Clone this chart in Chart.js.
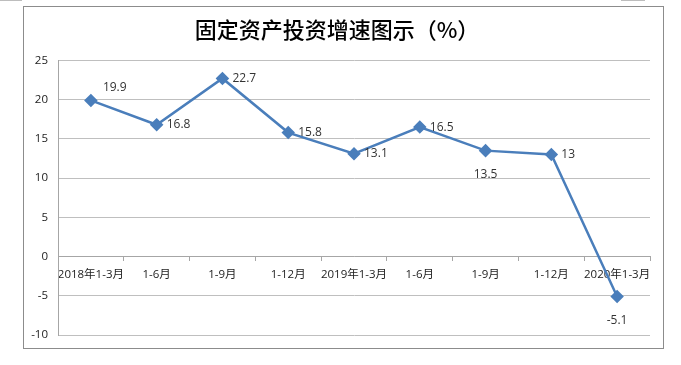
<!DOCTYPE html>
<html>
<head>
<meta charset="utf-8">
<script src="https://cdn.jsdelivr.net/npm/chart.js@4/dist/chart.umd.min.js"></script>
<style>
  html, body { margin: 0; padding: 0; background: #fff; }
  #wrap { position: relative; width: 681px; height: 365px; }
  #chart { position: absolute; left: 0; top: 0; }
</style>
</head>
<body>
<div id="wrap">
  <canvas id="chart" width="681" height="365"></canvas>
</div>
<script>
// 固定资产投资增速 (%)
const periods = ["2018年1-3月", "1-6月", "1-9月", "1-12月", "2019年1-3月", "1-6月", "1-9月", "1-12月", "2020年1-3月"];
const growth = [19.9, 16.8, 22.7, 15.8, 13.1, 16.5, 13.5, 13, -5.1];
const titleText = "固定资产投资增速图示（%）";

const tickFont = { family: "'Open Sans', 'Noto Sans CJK SC', sans-serif", size: 11.5 };

// frame around the chart plus the two little strokes at the top edge
const framePlugin = {
  id: "frame",
  beforeDraw(chart) {
    const c = chart.ctx;
    c.save();
    c.strokeStyle = "#8c8c8c";
    c.lineWidth = 1;
    c.strokeRect(23.5, 6.5, 640, 342);
    c.strokeStyle = "#bdbdbd";
    c.beginPath();
    c.moveTo(0, 0.5); c.lineTo(22, 0.5);
    c.moveTo(621, 0.5); c.lineTo(645, 0.5);
    c.stroke();
    c.restore();
  }
};

// value labels next to each point
const valueLabels = {
  id: "valueLabels",
  afterDatasetsDraw(chart) {
    const c = chart.ctx;
    const meta = chart.getDatasetMeta(0);
    c.save();
    c.font = "12px 'Open Sans', sans-serif";
    c.fillStyle = "#333";
    c.textBaseline = "middle";
    meta.data.forEach((pt, i) => {
      const v = growth[i];
      let x = pt.x + 10, y = pt.y, align = "left";
      if (i === 0) { x = pt.x + 12; y = pt.y - 13; }
      if (i === 6 || i === 8) { x = pt.x; y = pt.y + 24; align = "center"; }
      c.textAlign = align;
      c.fillText(String(v), x, y);
    });
    c.restore();
  }
};

new Chart(document.getElementById("chart"), {
  type: "line",
  data: {
    labels: periods,
    datasets: [{
      data: growth,
      borderColor: "#4a7ebb",
      backgroundColor: "#4a7ebb",
      borderWidth: 2.5,
      pointStyle: "rectRot",
      pointRadius: 5,
      pointHoverRadius: 5,
      tension: 0
    }]
  },
  options: {
    responsive: false,
    animation: false,
    layout: { padding: { left: 24, right: 31, top: 0, bottom: 30 } },
    plugins: {
      legend: { display: false },
      tooltip: { enabled: false },
      title: {
        display: true,
        text: titleText,
        color: "#000",
        font: { family: "'Noto Sans CJK SC', sans-serif", size: 22, weight: "500" },
        padding: { top: 16, bottom: 18 }
      }
    },
    scales: {
      x: {
        position: { y: 0 },
        offset: true,
        grid: {
          offset: true,
          drawOnChartArea: false,
          drawTicks: true,
          tickLength: 4,
          color: "#a6a6a6"
        },
        border: { color: "#a6a6a6" },
        ticks: { font: tickFont, color: "#222", padding: 7, maxRotation: 0, autoSkip: false }
      },
      y: {
        min: -10,
        max: 25,
        afterFit(scale) { scale.width = 34; },
        ticks: { stepSize: 5, font: tickFont, color: "#222", padding: 10 },
        grid: { color: "#bfbfbf", drawTicks: false },
        border: { color: "#a6a6a6" }
      }
    }
  },
  plugins: [framePlugin, valueLabels]
});
</script>
</body>
</html>
